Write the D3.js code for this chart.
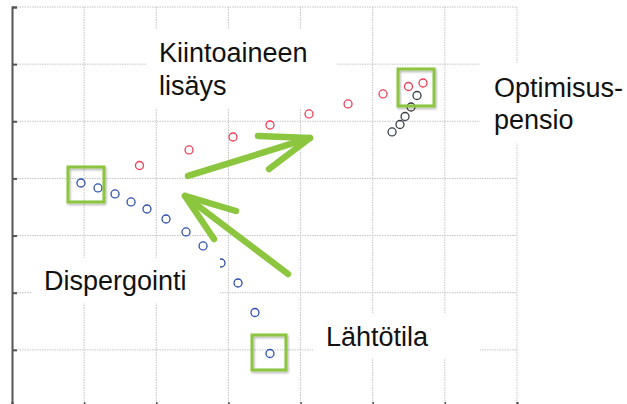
<!DOCTYPE html>
<html>
<head>
<meta charset="utf-8">
<script src="https://cdn.jsdelivr.net/npm/d3@7"></script>
<style>
  html, body { margin: 0; padding: 0; background: #fff; }
  svg { display: block; }
</style>
</head>
<body>
<svg id="chart" width="627" height="404"></svg>
<script>
// ---- data (chart units) ----
const xTicks = [0, 1, 2, 3, 4, 5, 6, 7];
const yTicks = [0, 1, 2, 3, 4, 5, 6, 7];

const dispX = [0.956, 1.192, 1.428, 1.650, 1.871, 2.135, 2.412, 2.648, 2.897, 3.133, 3.368, 3.576];
const dispY = [3.920, 3.833, 3.728, 3.588, 3.465, 3.290, 3.063, 2.818, 2.520, 2.170, 1.654, 0.936];

const solidX = [1.767, 2.454, 3.063, 3.576, 4.117, 4.658, 5.143, 5.496, 5.697];
const solidY = [4.226, 4.498, 4.725, 4.935, 5.128, 5.303, 5.478, 5.609, 5.670];

const optX = [5.268, 5.378, 5.448, 5.531, 5.614];
const optY = [4.813, 4.944, 5.084, 5.250, 5.451];

// highlight boxes [x0, x1, y0, y1]
const boxes = [
  [0.776, 1.275, 3.588, 4.200],
  [5.351, 5.850, 5.268, 5.915],
  [3.327, 3.798, 0.648, 1.260]
];

// arrows: tail, tip, barb1, barb2
const arrows = [
  { tail: [2.440, 4.043], tip: [4.131, 4.708], b1: [3.410, 4.743], b2: [3.563, 4.165] },
  { tail: [3.826, 2.328], tip: [2.398, 3.693], b1: [3.105, 3.430], b2: [2.800, 2.940] }
];

// labels: lines, anchor (x, y of first baseline)
const labels = [
  { lines: ["Kiintoaineen", "lisäys"], x: 2.038, y: 6.042, dy: 33, mask: [1.858, 4.506, 5.233, 6.615] },
  { lines: ["Optimisus-", "pensio"], x: 6.682, y: 5.425, dy: 32, mask: [6.487, 8.5, 4.620, 6.020] },
  { lines: ["Dispergointi"], x: 0.444, y: 2.047, dy: 0, mask: [0.277, 2.883, 1.820, 2.608] },
  { lines: ["Lähtötila"], x: 4.353, y: 1.068, dy: 0, mask: [4.173, 6.487, 0.858, 1.645] }
];

// ---- drawing ----
const svg = d3.select("#chart");
const x = d3.scaleLinear().domain([0, 7]).range([12, 517]);
const y = d3.scaleLinear().domain([0, 7]).range([407, 7]);

const defs = svg.append("defs");
const f = defs.append("filter").attr("id", "shadow").attr("x", "-20%").attr("y", "-20%").attr("width", "150%").attr("height", "150%");
f.append("feDropShadow").attr("dx", 1).attr("dy", 1.5).attr("stdDeviation", 1).attr("flood-color", "#000").attr("flood-opacity", 0.3);

// grid
const grid = svg.append("g");
grid.selectAll("line.v").data(xTicks.slice(1)).enter().append("line")
  .attr("x1", d => x(d)).attr("x2", d => x(d)).attr("y1", y(7)).attr("y2", y(0))
  .attr("stroke", "#c4c4c4").attr("stroke-width", 1).attr("stroke-dasharray", "1.5,1");
grid.selectAll("line.h").data(yTicks.slice(1)).enter().append("line")
  .attr("x1", x(0)).attr("x2", x(7)).attr("y1", d => y(d)).attr("y2", d => y(d))
  .attr("stroke", "#c4c4c4").attr("stroke-width", 1).attr("stroke-dasharray", "1.5,1");

// axes
const yAxis = d3.axisRight(y).tickValues(yTicks).tickSize(5).tickFormat("");
const gy = svg.append("g").attr("transform", `translate(${x(0)},0)`).call(yAxis);
gy.select(".domain").attr("stroke", "#555").attr("stroke-width", 2);
gy.selectAll(".tick line").attr("stroke", "#555").attr("stroke-width", 2);

const xAxis = d3.axisTop(x).tickValues(xTicks).tickSize(5).tickFormat("");
const gx = svg.append("g").attr("transform", `translate(0,${y(0)})`).call(xAxis);
gx.select(".domain").attr("stroke", "#555").attr("stroke-width", 2);
gx.selectAll(".tick line").attr("stroke", "#555").attr("stroke-width", 1.5);

// points
function series(xs, ys, color) {
  svg.append("g").selectAll("circle").data(xs.map((v, i) => [v, ys[i]])).enter().append("circle")
    .attr("cx", d => x(d[0])).attr("cy", d => y(d[1])).attr("r", 4)
    .attr("fill", "none").attr("stroke", color).attr("stroke-width", 1.3);
}
series(dispX, dispY, "#2f4fae");
series(solidX, solidY, "#f03c55");
series(optX, optY, "#3b4048");

// label masks + text
labels.forEach(l => {
  svg.append("rect")
    .attr("x", x(l.mask[0])).attr("y", y(l.mask[3]))
    .attr("width", x(l.mask[1]) - x(l.mask[0])).attr("height", y(l.mask[2]) - y(l.mask[3]))
    .attr("fill", "#fff");
  const t = svg.append("text").attr("x", x(l.x)).attr("y", y(l.y))
    .attr("font-family", "Liberation Sans, Arial, sans-serif").attr("font-size", 27).attr("fill", "#111");
  l.lines.forEach((s, i) => {
    t.append("tspan").attr("x", x(l.x)).attr("dy", i === 0 ? 0 : l.dy).text(s);
  });
});

// highlight boxes
svg.append("g").selectAll("rect").data(boxes).enter().append("rect")
  .attr("x", d => x(d[0])).attr("y", d => y(d[3]))
  .attr("width", d => x(d[1]) - x(d[0])).attr("height", d => y(d[2]) - y(d[3]))
  .attr("fill", "none").attr("stroke", "#8cc63f").attr("stroke-width", 3)
  .attr("filter", "url(#shadow)");

// arrows
const ag = svg.append("g").attr("stroke", "#8cc63f").attr("stroke-width", 6.5)
  .attr("stroke-linecap", "round").attr("stroke-linejoin", "round").attr("fill", "none");
arrows.forEach(a => {
  ag.append("path").attr("d", d3.line()([
    [x(a.tail[0]), y(a.tail[1])], [x(a.tip[0]), y(a.tip[1])]
  ]));
  ag.append("path").attr("d", d3.line()([
    [x(a.b1[0]), y(a.b1[1])], [x(a.tip[0]), y(a.tip[1])], [x(a.b2[0]), y(a.b2[1])]
  ]));
});
</script>
</body>
</html>
